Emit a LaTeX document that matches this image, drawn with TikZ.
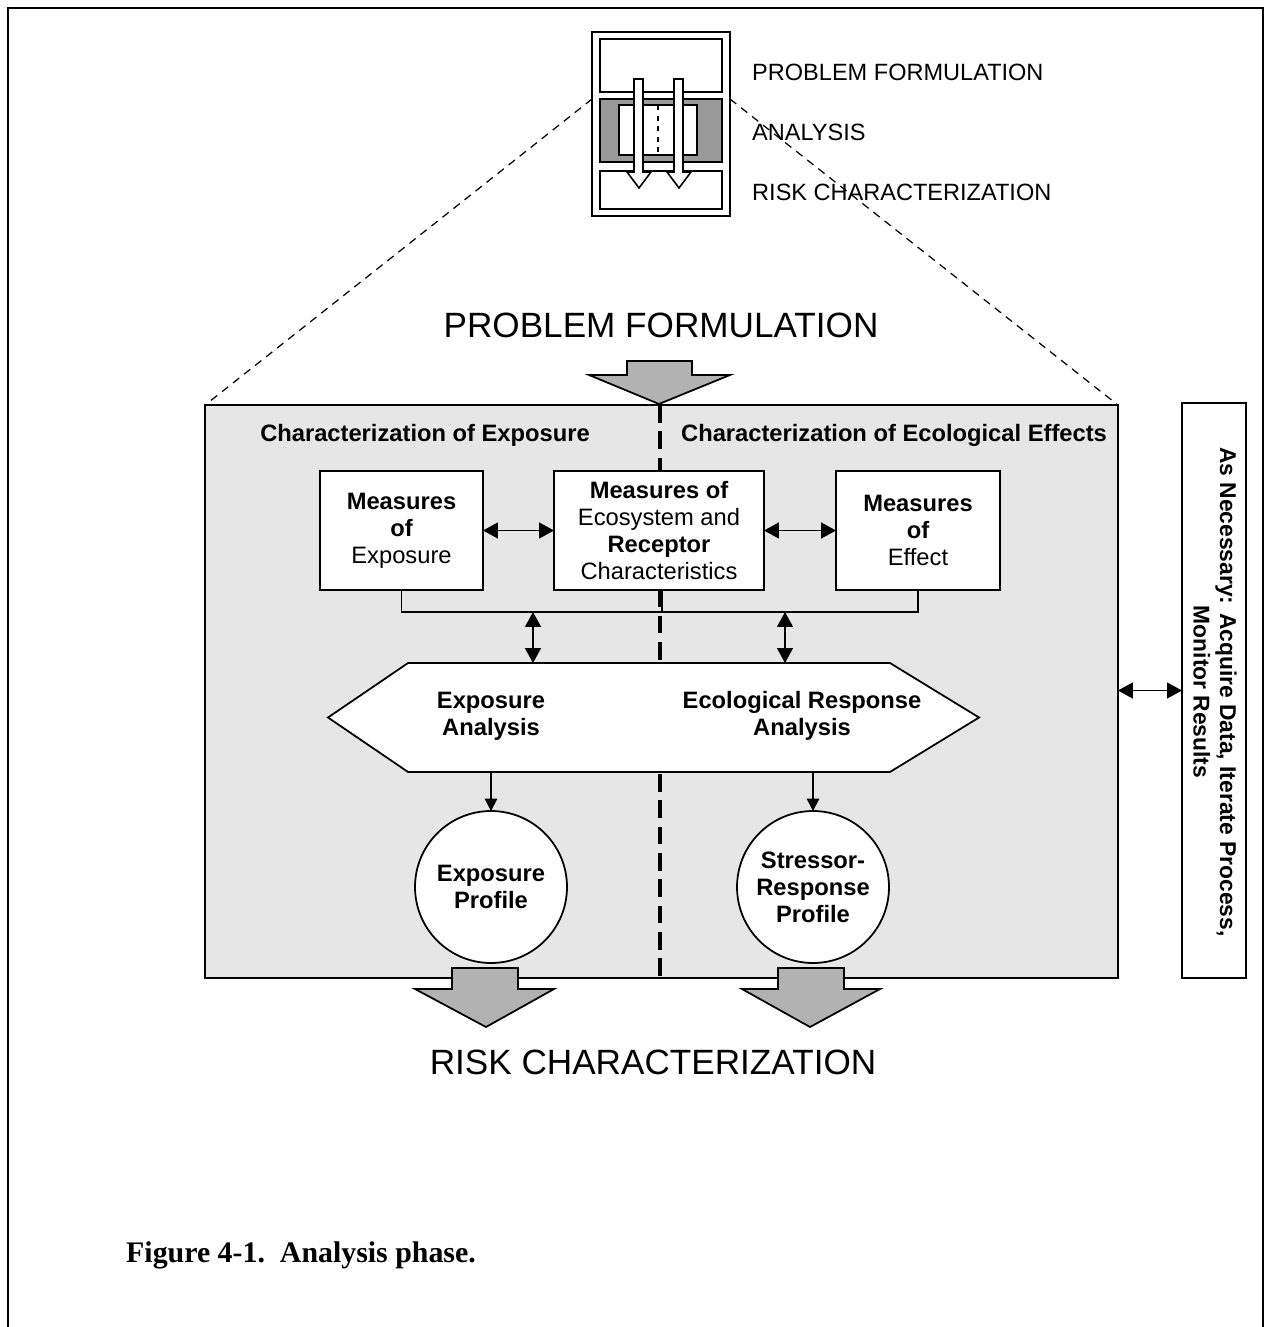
\documentclass[tikz,border=0pt]{standalone}
\usepackage{fontspec}
\setmainfont{Liberation Sans}
\newfontfamily\capfont{Liberation Serif}
\usetikzlibrary{arrows.meta}
\definecolor{panelgray}{RGB}{230,230,230}
\definecolor{arrowgray}{RGB}{178,178,178}
\definecolor{bandgray}{RGB}{153,153,153}

\begin{document}
\begin{tikzpicture}[x=0.02cm, y=-0.02cm,
    box/.style={draw, line width=1pt, fill=white, align=center, inner sep=0pt, outer sep=0pt,
      font=\fontsize{13.5}{15.3}\selectfont},
    plain/.style={draw, line width=0.9pt, inner sep=0pt, outer sep=0pt},
    header/.style={font=\fontsize{13.5}{16}\selectfont\bfseries},
    bigtitle/.style={font=\fontsize{20}{24}\selectfont},
    iconlabel/.style={anchor=west, font=\fontsize{13.4}{16}\selectfont},
    dbl/.style={{Triangle[length=8.5pt,width=9pt]}-{Triangle[length=8.5pt,width=9pt]}, line width=1pt},
    sgl/.style={-{Triangle[length=7pt,width=7pt]}, line width=1pt},
    blockarrow/.style={draw, line width=1pt, fill=arrowgray}]
  \useasboundingbox (0,0) rectangle (1271,1327);
  % page frame
  \draw[line width=1.6pt] (8,1327) -- (8,8) -- (1263,8) -- (1263,1327);

  % small phase icon
  \node[plain, line width=1pt, fill=white, minimum width=2.76cm, minimum height=3.68cm] (icon) at (661,124) {};
  \node[plain, minimum width=2.44cm, minimum height=1.06cm] (pfbox) at (661,65.5) {};
  \node[plain, fill=bandgray, minimum width=2.44cm, minimum height=1.26cm] (band) at (661,130.5) {};
  \node[plain, fill=white, minimum width=1.56cm, minimum height=1.0cm] (bandin) at (658,130) {};
  \draw[dashed, line width=0.7pt] (bandin.north) -- (bandin.south);
  \node[plain, minimum width=2.44cm, minimum height=0.76cm] (rcbox) at (661,190) {};
  \draw[line width=0.9pt, fill=white] (634,79) -- (643,79) -- (643,172) -- (651,172) -- (639,188) -- (627,172) -- (634,172) -- cycle;
  \draw[line width=0.9pt, fill=white] (674,79) -- (683,79) -- (683,172) -- (691,172) -- (679,188) -- (667,172) -- (674,172) -- cycle;
  \node[iconlabel] (pflabel) at (746,72) {PROBLEM FORMULATION};
  \node[iconlabel] (anlabel) at (746,132) {ANALYSIS};
  \node[iconlabel] (rclabel) at (746,192) {RISK CHARACTERIZATION};

  % analysis panel
  \node[draw, line width=1pt, fill=panelgray, minimum width=18.26cm, minimum height=11.46cm, outer sep=0pt] (mainbox) at (661.5,691.5) {};
  \draw[line width=2.2pt, dash pattern=on 10pt off 5pt] (660,405) -- (660,976);
  \draw[dash pattern=on 4.5pt off 3.5pt, line width=0.7pt] (icon.west |- band.north) -- (mainbox.north west);
  \draw[dash pattern=on 4.5pt off 3.5pt, line width=0.7pt] (icon.east |- band.north) -- (mainbox.north east);

  \node[bigtitle] (pftitle) at (661,325) {PROBLEM FORMULATION};
  \draw[blockarrow] (627,361) -- (692,361) -- (692,375) -- (730,375) -- (659,404) -- (589,375) -- (627,375) -- cycle;

  \node[header] (hdexp) at (425,435) {Characterization of Exposure};
  \node[header] (hdeco) at (894,435) {Characterization of Ecological Effects};

  % measures
  \node[box, minimum width=3.26cm, minimum height=2.38cm] (mexp) at (401.5,530.5) {\textbf{Measures}\\\textbf{of}\\Exposure};
  \node[box, minimum width=4.2cm, minimum height=2.38cm] (meco) at (659,530.5) {\textbf{Measures of}\\Ecosystem and\\\textbf{Receptor}\\Characteristics};
  \node[box, minimum width=3.28cm, minimum height=2.38cm] (meff) at (918,530.5) {\textbf{Measures}\\\textbf{of}\\Effect};
  \draw[dbl] (mexp) -- (meco);
  \draw[dbl] (meco) -- (meff);

  \coordinate (busL) at (533,612);
  \coordinate (busR) at (785,612);
  \draw[line width=1pt] (mexp.south) |- (meff.south |- busL) -- (meff.south);
  \draw[line width=1pt] ([xshift=0.06cm]meco.south) -- ([xshift=0.06cm]meco.south |- busL);

  % analysis hexagon
  \node[minimum width=9.64cm, minimum height=2.18cm, inner sep=0pt, outer sep=0pt] (hexbox) at (649,717.5) {};
  \coordinate (hexL) at (328,717.5);
  \coordinate (hexR) at (979,717.5);
  \draw[line width=1pt, fill=white] (hexbox.north west) -- (hexbox.north east) -- (hexR) -- (hexbox.south east) -- (hexbox.south west) -- (hexL) -- cycle;
  \draw[dbl] (busL) -- (busL |- hexbox.north);
  \draw[dbl] (busR) -- (busR |- hexbox.north);
  \node[header, align=center, font=\fontsize{13.5}{15.3}\selectfont\bfseries] (expan) at (491,716) {Exposure\\Analysis};
  \node[header, align=center, font=\fontsize{13.5}{15.3}\selectfont\bfseries] (ecoan) at (802,716) {Ecological Response\\Analysis};

  % profiles
  \node[box, circle, minimum size=3.04cm, font=\fontsize{13.5}{15.3}\selectfont\bfseries] (expprof) at (491,887) {Exposure\\Profile};
  \node[box, circle, minimum size=3.04cm, font=\fontsize{13.5}{15.3}\selectfont\bfseries] (srprof) at (813,887) {Stressor-\\Response\\Profile};
  \draw[sgl] (expprof.north |- hexbox.south) -- (expprof.north);
  \draw[sgl] (srprof.north |- hexbox.south) -- (srprof.north);

  \draw[blockarrow] (452,968) -- (518,968) -- (518,989) -- (554,989) -- (486,1027) -- (415,989) -- (452,989) -- cycle;
  \draw[blockarrow] (778,968) -- (844,968) -- (844,989) -- (880,989) -- (810,1027) -- (742,989) -- (778,989) -- cycle;
  \node[bigtitle] (rctitle) at (653,1062) {RISK CHARACTERIZATION};

  % iteration box
  \node[draw, line width=1pt, fill=white, minimum width=1.28cm, minimum height=11.5cm, outer sep=0pt] (side) at (1214,690.5) {};
  \node[rotate=-90, align=center, inner sep=0pt, font=\fontsize{13}{15}\selectfont\bfseries] (sidetxt) at (1215,692) {As Necessary: Acquire Data, Iterate Process,\\Monitor Results};
  \draw[dbl] (mainbox.east |- side.west) -- (side.west);

  \node[anchor=west, font=\capfont\bfseries\fontsize{17}{20}\selectfont] (caption) at (120,1255) {Figure 4-1.\ \ Analysis phase.};
\end{tikzpicture}
\end{document}
